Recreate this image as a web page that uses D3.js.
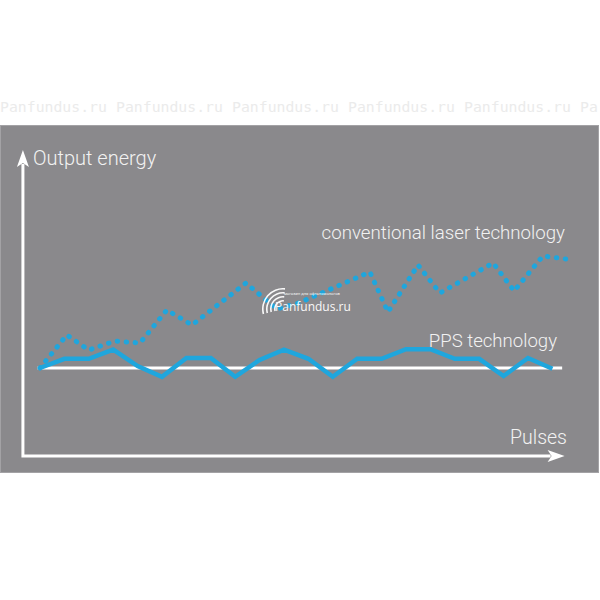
<!DOCTYPE html>
<html>
<head>
<meta charset="utf-8">
<script src="https://cdn.jsdelivr.net/npm/d3@7"></script>
<style>
  html, body { margin: 0; padding: 0; background: #ffffff; }
  svg { display: block; }
</style>
</head>
<body>
<div id="chart"></div>
<script>
// ---- data ----
const ppsPulses = [0, 1, 2, 3, 4, 5, 6, 7, 8, 9, 10, 11, 12, 13, 14, 15, 16, 17, 18, 19, 20, 21];
const ppsEnergy = [100, 102.3, 102.3, 104.6, 100.5, 97.8, 102.5, 102.5, 97.8, 102, 104.6, 102.3, 97.8, 102.3, 102.3, 104.7, 104.7, 102.3, 102.3, 98, 102.5, 99.8];

const convPulses = [0, 1.1, 2.0, 3.07, 4.1, 5.2, 6.23, 8.44, 9.7, 10.6, 13.52, 14.26, 15.49, 16.39, 18.57, 19.43, 20.61, 21.56];
const convEnergy = [100, 108.25, 104.5, 106.75, 106.25, 114.5, 110.75, 121.25, 114.75, 116.25, 124, 114, 125.75, 118.75, 126.25, 119.25, 128, 127.25];

const referenceLevel = [100];
const axisLabels = ["Output energy", "Pulses"];
const seriesLabels = ["conventional laser technology", "PPS technology"];
const watermarkText = "Panfundus.ru";
const logoText = ["Panfundus.ru", "магазин для офтальмологов"];

// ---- layout ----
const W = 600, H = 600;
const blue = "#1fa6dd";
const svg = d3.select("#chart").append("svg").attr("width", W).attr("height", H);

// watermark strip
const wm = svg.append("g");
for (let i = 0; i < 6; i++) {
  wm.append("text")
    .attr("x", i * 116).attr("y", 112)
    .attr("font-family", "DejaVu Sans Mono, Liberation Mono, monospace")
    .attr("font-size", 14.8)
    .attr("fill", "#ebebeb")
    .text(i < 5 ? watermarkText : watermarkText.slice(0, 2));
}

// gray panel
svg.append("rect")
  .attr("x", 0.5).attr("y", 125.5).attr("width", 598).attr("height", 347)
  .attr("fill", "#8a898c").attr("stroke", "#a3a2a5").attr("stroke-width", 1);

const x = d3.scaleLinear().domain([0, 21]).range([40, 552.4]);
const y = d3.scaleLinear().domain([78, 154.5]).range([456, 150]);

const g = svg.append("g");

// axes
const axisX0 = x(-0.7), axisY0 = y(78);
const xEnd = x(21.5), yTop = y(154.5);
g.append("path")
  .attr("d", `M${axisX0},${y(154.5) + 14} L${axisX0},${axisY0} L${xEnd - 14},${axisY0}`)
  .attr("fill", "none").attr("stroke", "#ffffff").attr("stroke-width", 3);
// arrow heads
g.append("path")
  .attr("d", `M${axisX0},${yTop} L${axisX0 - 6},${yTop + 17} L${axisX0},${yTop + 13} L${axisX0 + 6},${yTop + 17} Z`)
  .attr("fill", "#ffffff");
g.append("path")
  .attr("d", `M${xEnd},${axisY0} L${xEnd - 17},${axisY0 - 6} L${xEnd - 13},${axisY0} L${xEnd - 17},${axisY0 + 6} Z`)
  .attr("fill", "#ffffff");

// reference baseline
g.append("line")
  .attr("x1", x(-0.1)).attr("x2", x(21.4))
  .attr("y1", y(referenceLevel[0])).attr("y2", y(referenceLevel[0]))
  .attr("stroke", "#ffffff").attr("stroke-width", 3);

// conventional (dotted)
const convData = convPulses.map((p, i) => [p, convEnergy[i]]);
const ppsData = ppsPulses.map((p, i) => [p, ppsEnergy[i]]);
const line = d3.line().x(d => x(d[0])).y(d => y(d[1]));

g.append("path")
  .datum(convData)
  .attr("d", line)
  .attr("fill", "none")
  .attr("stroke", blue)
  .attr("stroke-width", 5)
  .attr("stroke-linecap", "round")
  .attr("stroke-linejoin", "round")
  .attr("stroke-dasharray", "0.5,8.5");

// PPS (solid)
g.append("path")
  .datum(ppsData)
  .attr("d", line)
  .attr("fill", "none")
  .attr("stroke", blue)
  .attr("stroke-width", 4.5)
  .attr("stroke-linejoin", "miter");

// labels
const font = "Roboto, 'Liberation Sans', Arial, sans-serif";
const txt = (s, xx, yy, size, anchor) => g.append("text")
  .attr("x", xx).attr("y", yy)
  .attr("font-family", font).attr("font-weight", 300)
  .attr("font-size", size).attr("fill", "#f2f2f2")
  .attr("text-anchor", anchor || "start")
  .text(s);

txt(axisLabels[0], 33, 165, 20);
txt(axisLabels[1], 567, 444, 19.5, "end");
txt(seriesLabels[0], 565, 239, 18.7, "end");
txt(seriesLabels[1], 557, 347, 18.6, "end");

// center logo watermark
const logo = svg.append("g").attr("opacity", 0.95);
const cx = 283, cy = 309;
[9, 13, 17, 21].forEach(r => {
  logo.append("path")
    .attr("d", d3.arc().innerRadius(r - 1.6).outerRadius(r)
      .startAngle(-Math.PI / 2 - 0.25).endAngle(0.1)())
    .attr("transform", `translate(${cx},${cy})`)
    .attr("fill", "#ffffff");
});
logo.append("text").attr("x", 275).attr("y", 311)
  .attr("font-family", "'Open Sans', 'Noto Sans', sans-serif")
  .attr("font-size", 12).attr("fill", "#ffffff")
  .text(logoText[0]);
logo.append("text").attr("x", 284).attr("y", 295)
  .attr("font-family", "'Noto Sans', sans-serif")
  .attr("font-size", 4).attr("fill", "#ffffff")
  .text(logoText[1]);
</script>
</body>
</html>
